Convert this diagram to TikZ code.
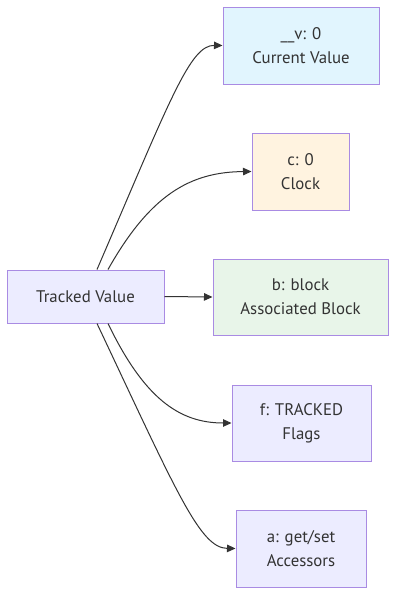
\documentclass[tikz,border=0pt]{standalone}
\usepackage{fontspec}
\setmainfont{PT Sans}
\usetikzlibrary{arrows.meta}
\definecolor{boxline}{HTML}{A98BE3}
\definecolor{linkgray}{HTML}{333333}
\definecolor{mainfill}{HTML}{ECECFF}
\definecolor{valuefill}{HTML}{E1F5FE}
\definecolor{clockfill}{HTML}{FFF3E0}
\definecolor{blockfill}{HTML}{E8F5E9}

\begin{document}
\begin{tikzpicture}[x=1pt,y=-1pt,
  box/.style={draw=boxline,line width=1pt,fill=mainfill,inner sep=0pt,
    align=center,text=linkgray,font=\fontsize{16.8}{24}\selectfont},
  link/.style={draw=linkgray,line width=1pt,-{Triangle[length=8.5pt,width=7.5pt]}}]
\useasboundingbox (0,0) rectangle (405,606);
\node[box,minimum width=157,minimum height=53] (tracked) at (85.5,296.5) {Tracked Value};
\node[box,fill=valuefill,minimum width=156,minimum height=77] (value) at (301,45.5) {\_\_v: 0\\Current Value};
\node[box,fill=clockfill,minimum width=97,minimum height=77] (clock) at (300.5,171.5) {c: 0\\Clock};
\node[box,fill=blockfill,minimum width=175,minimum height=76] (block) at (300.5,297) {b: block\\Associated Block};
\node[box,minimum width=139,minimum height=76] (flags) at (301.5,423) {f: TRACKED\\Flags};
\node[box,minimum width=130,minimum height=77] (access) at (301,548.5) {a: get/set\\Accessors};
\draw[link] ([xshift=11.5]tracked.north) .. controls (170,100) and (190,45) .. (value.west);
\draw[link] ([xshift=22.5]tracked.north) .. controls (150,195) and (190,172) .. (clock.west);
\draw[link] (tracked.east) -- (block.west);
\draw[link] ([xshift=22.5]tracked.south) .. controls (144,398) and (179,423) .. (flags.west);
\draw[link] ([xshift=11.5]tracked.south) .. controls (177,493) and (200,548) .. (access.west);
\end{tikzpicture}
\end{document}
